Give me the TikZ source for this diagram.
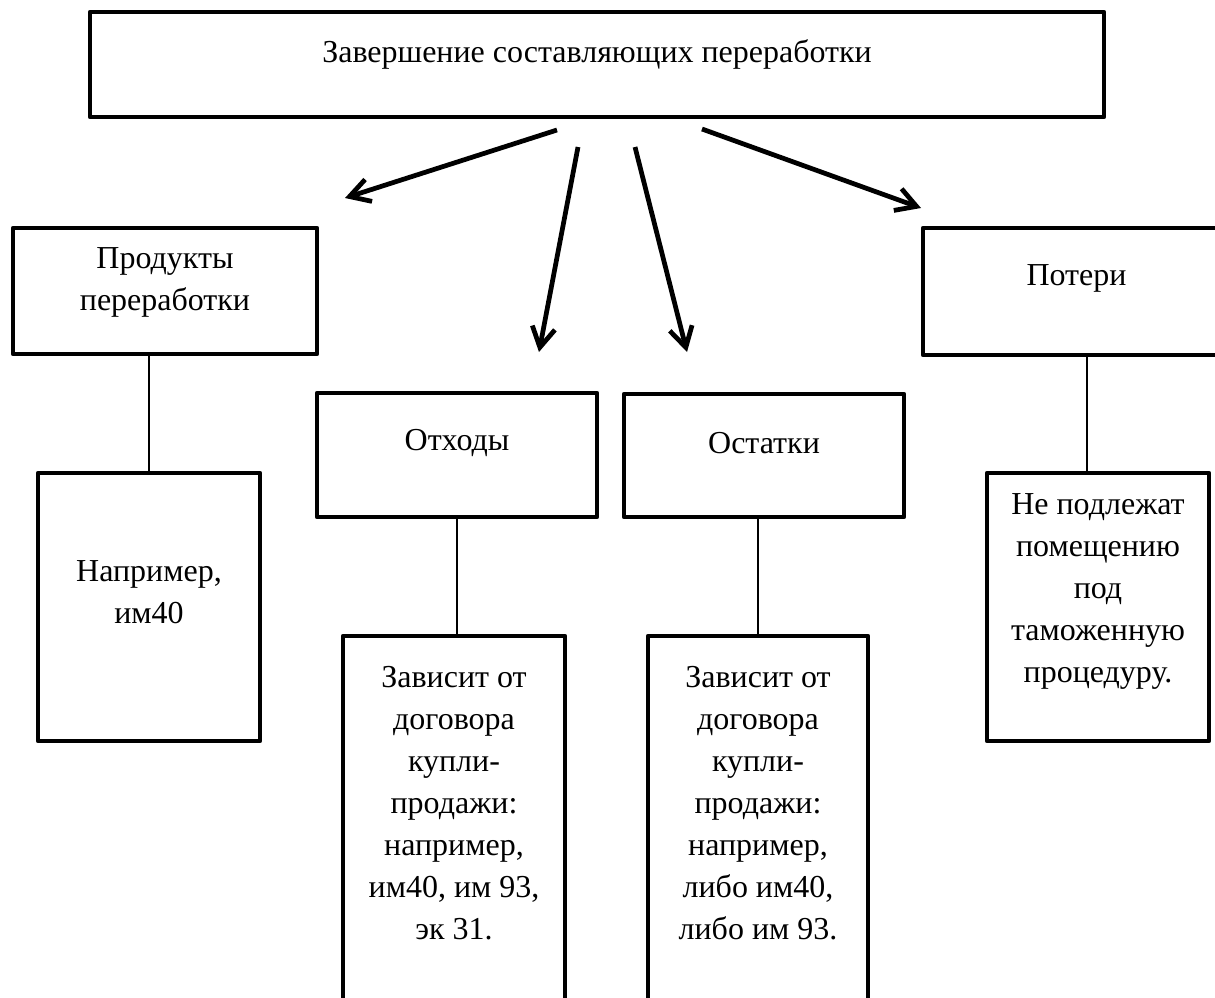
\documentclass[tikz,border=0pt]{standalone}
\usepackage{fontspec}
\setmainfont{Liberation Serif}
\usetikzlibrary{arrows.meta}

\begin{document}
\begin{tikzpicture}[->,>={Straight Barb[length=0.4cm,width=0.46cm]},line width=2.7pt,
                    font=\fontsize{18.2}{23.9}\selectfont]
  \tikzstyle{box}=[rectangle,draw,line width=2.5pt,line join=round,inner sep=0pt]
  \tikzstyle{txt}=[align=center,inner sep=0pt]
  \tikzstyle{link}=[-,line width=0.8pt]

  \useasboundingbox (0,0) rectangle (24.3,-19.94);

  \node[box,minimum width=20.28cm,minimum height=2.1cm,
        label={[txt,yshift=0.2cm]center:Завершение составляющих переработки}] (main) at (11.94,-1.29) {};

  \node[box,minimum width=6.08cm,minimum height=2.52cm,
        label={[txt,yshift=0.17cm]center:Продукты\\переработки}] (prod) at (3.30,-5.82) {};
  \node[box,minimum width=5.6cm,minimum height=2.48cm,
        label={[txt,yshift=0.24cm]center:Отходы}] (waste) at (9.14,-9.10) {};
  \node[box,minimum width=5.6cm,minimum height=2.46cm,
        label={[txt,yshift=0.24cm]center:Остатки}] (rest) at (15.28,-9.11) {};
  \node[box,minimum width=6.14cm,minimum height=2.54cm,
        label={[txt,yshift=0.26cm]center:Потери}] (loss) at (21.53,-5.83) {};

  \node[box,minimum width=4.44cm,minimum height=5.36cm,
        label={[txt,yshift=0.3cm]center:{Например,\\им40}}] (prodex) at (2.98,-12.14) {};
  \node[box,minimum width=4.44cm,minimum height=7.88cm,
        label={[txt,yshift=0.6cm]center:{Зависит от\\договора\\купли-\\продажи:\\например,\\им40, им 93,\\эк 31.}}] (wasteex) at (9.08,-16.66) {};
  \node[box,minimum width=4.4cm,minimum height=7.88cm,
        label={[txt,yshift=0.6cm]center:{Зависит от\\договора\\купли-\\продажи:\\например,\\либо им40,\\либо им 93.}}] (restex) at (15.16,-16.66) {};
  \node[box,minimum width=4.44cm,minimum height=5.36cm,
        label={[txt,yshift=0.32cm]center:{Не подлежат\\помещению\\под\\таможенную\\процедуру.}}] (lossex) at (21.96,-12.14) {};

  \coordinate (m1) at (11.14,-2.60);
  \coordinate (m2) at (11.56,-2.94);
  \coordinate (m3) at (12.70,-2.94);
  \coordinate (m4) at (14.04,-2.58);
  \coordinate (t1) at (6.90,-3.96);
  \coordinate (t2) at (10.78,-7.04);
  \coordinate (t3) at (13.74,-7.04);
  \coordinate (t4) at (18.42,-4.16);

  \path (m1) edge (t1)
        (m2) edge (t2)
        (m3) edge (t3)
        (m4) edge (t4);

  \draw[link] (prodex.north) -- (prodex.north |- prod.south);
  \draw[link] (waste.south) -- (waste.south |- wasteex.north);
  \draw[link] (restex.north) -- (restex.north |- rest.south);
  \draw[link] ([xshift=-0.22cm]lossex.north) -- ([xshift=-0.22cm]lossex.north |- loss.south);

\end{tikzpicture}
\end{document}
